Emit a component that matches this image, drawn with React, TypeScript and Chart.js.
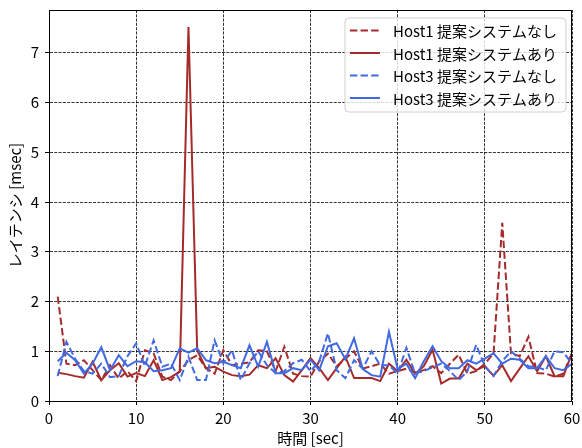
import React, { useEffect, useRef } from 'react';
import { Chart, registerables } from 'chart.js';
Chart.register(...registerables);

const seconds = [
  1, 2, 3, 4, 5, 6, 7, 8, 9, 10, 11, 12, 13, 14, 15, 16, 17, 18, 19, 20,
  21, 22, 23, 24, 25, 26, 27, 28, 29, 30, 31, 32, 33, 34, 35, 36, 37, 38, 39, 40,
  41, 42, 43, 44, 45, 46, 47, 48, 49, 50, 51, 52, 53, 54, 55, 56, 57, 58, 59, 60,
];

const host1Without = [
  2.1, 0.75, 0.72, 0.82, 0.62, 0.42, 0.72, 0.45, 0.6, 0.4,
  1.02, 0.96, 0.49, 0.42, 0.6, 0.82, 0.92, 0.66, 0.55, 1.02,
  0.72, 0.75, 0.78, 1.02, 1.0, 0.6, 1.09, 0.55, 0.5, 0.49,
  0.8, 0.95, 0.7, 0.85, 1.0, 0.65, 0.7, 0.75, 0.55, 0.6,
  0.65, 0.58, 0.62, 0.7, 0.56, 0.75, 0.93, 0.55, 0.6, 0.75,
  0.96, 3.58, 0.96, 0.9, 1.29, 0.56, 0.55, 0.49, 0.55, 0.96,
];

const host1With = [
  0.57, 0.54, 0.5, 0.47, 0.79, 0.42, 0.62, 0.76, 0.49, 0.56,
  0.5, 0.82, 0.42, 0.48, 0.59, 7.52, 1.02, 0.66, 0.69, 0.59,
  0.52, 0.5, 0.53, 0.72, 0.66, 0.86, 0.52, 0.39, 0.62, 0.86,
  0.66, 0.42, 0.66, 0.89, 0.46, 0.46, 0.46, 0.4, 0.75, 0.6,
  0.83, 0.55, 0.7, 1.03, 0.35, 0.45, 0.45, 0.75, 0.62, 0.7,
  0.51, 0.72, 0.4, 0.65, 0.9, 0.6, 0.9, 0.5, 0.5, 0.96,
];

const host3Without = [
  0.5, 1.19, 0.85, 0.6, 0.55, 0.75, 0.48, 0.5, 0.9, 1.16,
  0.7, 1.22, 0.69, 0.75, 0.42, 0.89, 0.42, 0.42, 1.22, 0.76,
  1.02, 0.42, 0.76, 1.0, 0.72, 0.56, 0.6, 0.76, 0.83, 0.6,
  0.8, 1.36, 0.62, 0.46, 0.82, 0.65, 1.0, 0.72, 0.72, 0.55,
  1.07, 0.55, 0.6, 0.68, 0.75, 0.6, 0.42, 0.6, 1.13, 0.7,
  0.5, 0.8, 1.0, 0.85, 0.7, 0.68, 0.62, 1.0, 0.98, 0.75,
];

const host3With = [
  0.8, 0.97, 0.82, 0.55, 0.75, 1.08, 0.62, 0.92, 0.7, 0.8,
  0.78, 0.6, 0.62, 0.66, 1.06, 0.97, 1.06, 0.82, 0.76, 0.79,
  0.72, 0.66, 1.12, 0.69, 1.19, 0.56, 0.56, 0.66, 0.62, 0.83,
  0.62, 1.1, 1.16, 0.84, 1.26, 0.64, 0.52, 0.49, 1.39, 0.64,
  0.75, 0.46, 0.8, 1.1, 0.8, 0.66, 0.66, 0.82, 0.75, 0.85,
  0.96, 0.75, 0.85, 0.83, 0.66, 0.66, 0.9, 0.66, 0.62, 0.75,
];

const seriesLabels = [
  'Host1 提案システムなし',
  'Host1 提案システムあり',
  'Host3 提案システムなし',
  'Host3 提案システムあり',
];
const xTitle = '時間 [sec]';
const yTitle = 'レイテンシ [msec]';

const RED = '#a52a2a';
const BLUE = '#4169e1';
const DASH = [7.4, 3.2];
const FONT = "'Noto Sans CJK JP', 'Noto Sans', sans-serif";

const frameLegendPlugin = {
  id: 'frameLegend',
  afterDatasetsDraw(chart: any) {
    const { ctx, chartArea: a } = chart;
    ctx.save();
    ctx.strokeStyle = '#000';
    ctx.lineWidth = 1;
    ctx.setLineDash([]);
    ctx.strokeRect(Math.round(a.left) + 0.5, Math.round(a.top) + 0.5, Math.round(a.right - a.left) - 1, Math.round(a.bottom - a.top));
    ctx.restore();
  },
  afterDraw(chart: any) {
    const { ctx, chartArea: a } = chart;
    const items = chart.data.datasets.map((d: any) => ({
      label: d.label, color: d.borderColor, dash: d.borderDash,
    }));
    ctx.save();
    ctx.font = `15px ${FONT}`;
    const tw = Math.max(...items.map((it: any) => ctx.measureText(it.label).width));
    const padL = 5, lineW = 30, gap = 13, padR = 6;
    const w = padL + lineW + gap + tw + padR + 3;
    const rowH = 22.5;
    const h = 94;
    const right = a.right - 6;
    const x = right - w;
    const y = a.top + 8;
    ctx.beginPath();
    const r = 4;
    ctx.moveTo(x + r, y);
    ctx.lineTo(x + w - r, y);
    ctx.quadraticCurveTo(x + w, y, x + w, y + r);
    ctx.lineTo(x + w, y + h - r);
    ctx.quadraticCurveTo(x + w, y + h, x + w - r, y + h);
    ctx.lineTo(x + r, y + h);
    ctx.quadraticCurveTo(x, y + h, x, y + h - r);
    ctx.lineTo(x, y + r);
    ctx.quadraticCurveTo(x, y, x + r, y);
    ctx.closePath();
    ctx.fillStyle = 'rgba(255,255,255,0.8)';
    ctx.fill();
    ctx.strokeStyle = '#d0d0d0';
    ctx.lineWidth = 1;
    ctx.stroke();
    items.forEach((it: any, i: number) => {
      const cy = y + 12.5 + i * rowH;
      ctx.beginPath();
      ctx.setLineDash(it.dash || []);
      ctx.strokeStyle = it.color;
      ctx.lineWidth = 2;
      ctx.moveTo(x + padL, cy);
      ctx.lineTo(x + padL + lineW, cy);
      ctx.stroke();
      ctx.setLineDash([]);
      ctx.fillStyle = '#000';
      ctx.textBaseline = 'middle';
      ctx.textAlign = 'left';
      ctx.fillText(it.label, x + padL + lineW + gap, cy + 1);
    });
    ctx.restore();
  },
};

export default function App() {
  const ref = useRef<HTMLCanvasElement>(null);
  useEffect(() => {
    const canvas = ref.current!;
    const mk = (vals: number[], color: string, dashed: boolean, label: string, order: number) => ({
      label,
      data: seconds.map((s, i) => ({ x: s, y: vals[i] })),
      borderColor: color,
      backgroundColor: color,
      borderWidth: 2,
      borderDash: dashed ? DASH : [],
      pointRadius: 0,
      tension: 0,
      fill: false,
      order,
    });
    const gridCommon = {
      color: '#000',
      lineWidth: 0.8,
      drawTicks: true,
      tickLength: 4,
      tickColor: '#000',
      tickWidth: 1,
      tickBorderDash: [],
    };
    const chart = new Chart(canvas, {
      type: 'line',
      data: {
        datasets: [
          mk(host1Without, RED, true, seriesLabels[0], 3),
          mk(host1With, RED, false, seriesLabels[1], 2),
          mk(host3Without, BLUE, true, seriesLabels[2], 1),
          mk(host3With, BLUE, false, seriesLabels[3], 0),
        ],
      },
      options: {
        animation: false,
        responsive: false,
        devicePixelRatio: 1,
        layout: { padding: { top: 10, right: 10, left: 0, bottom: 0 } },
        plugins: { legend: { display: false }, tooltip: { enabled: false } },
        font: { family: FONT },
        scales: {
          x: {
            type: 'linear',
            min: 0,
            max: 60,
            ticks: { stepSize: 10, padding: 4, color: '#000', font: { size: 15, family: FONT }, maxRotation: 0 },
            grid: gridCommon,
            border: { display: true, color: '#000', width: 1, dash: [3, 1.3] },
            title: { display: true, text: xTitle, color: '#000', font: { size: 15, family: FONT }, padding: { top: 0, bottom: 1 } },
            afterFit: (s: any) => { s.height = 47; s.paddingLeft = 0; s.paddingRight = 0; },
          },
          y: {
            type: 'linear',
            min: 0,
            max: 7.86,
            ticks: { stepSize: 1, padding: 6, color: '#000', font: { size: 15, family: FONT } },
            afterBuildTicks: (s: any) => { s.ticks = s.ticks.filter((t: any) => Number.isInteger(t.value)); },
            grid: gridCommon,
            border: { display: true, color: '#000', width: 1, dash: [3, 1.3] },
            title: { display: true, text: yTitle, color: '#000', font: { size: 15, family: FONT }, padding: { top: 6, bottom: 0 } },
            afterFit: (s: any) => { s.width = 49; s.paddingTop = 0; s.paddingBottom = 0; },
          },
        },
      } as any,
      plugins: [frameLegendPlugin],
    });
    return () => chart.destroy();
  }, []);
  return (
    <div style={{ position: 'fixed', left: 0, top: 0, width: 582, height: 448, background: '#fff' }}>
      <canvas ref={ref} width={582} height={448} />
    </div>
  );
}
